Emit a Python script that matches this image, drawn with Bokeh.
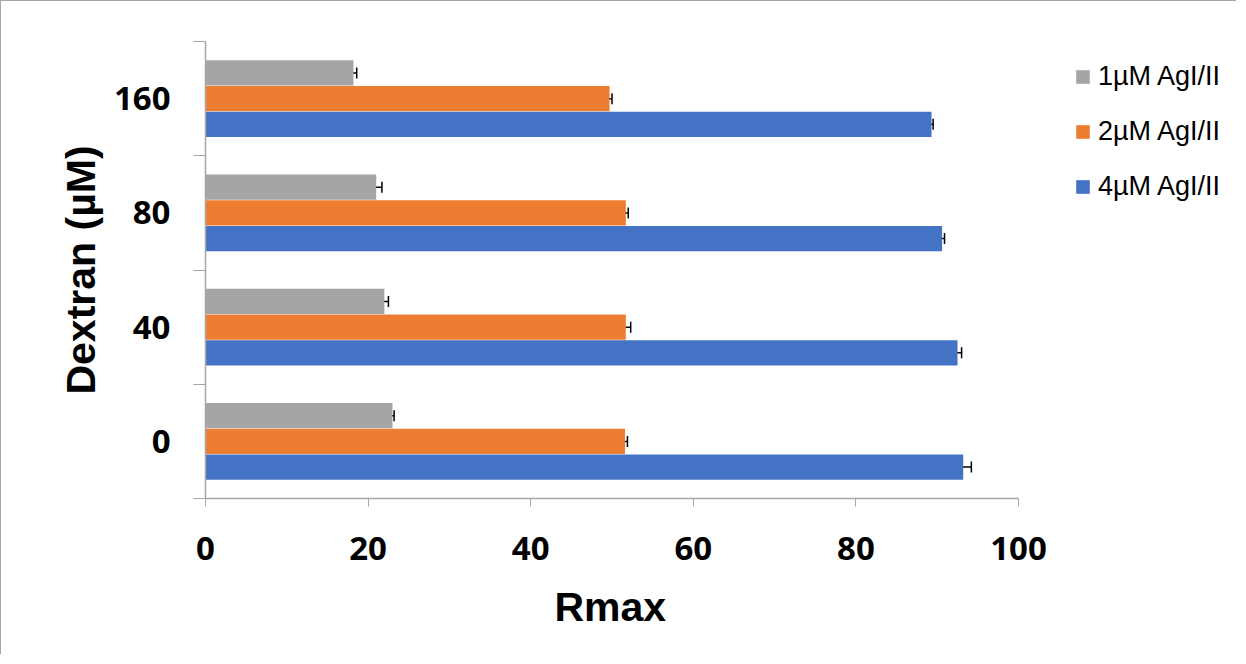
from bokeh.plotting import figure
from bokeh.models import ColumnDataSource, Range1d, FixedTicker, Whisker, Legend, LegendItem, TeeHead, Title
from bokeh.embed import file_html
from bokeh.resources import INLINE

# ---- data ----
dextran = ["0", "40", "80", "160"]
series = ["1µM AgI/II", "2µM AgI/II", "4µM AgI/II"]
colors = ["#A5A5A5", "#ED7D31", "#4472C4"]
rmax_1uM = [23.0, 22.0, 21.0, 18.2]
rmax_2uM = [51.6, 51.7, 51.7, 49.7]
rmax_4uM = [93.2, 92.5, 90.6, 89.3]
err_1uM = [0.2, 0.5, 0.7, 0.4]
err_2uM = [0.3, 0.6, 0.3, 0.3]
err_4uM = [1.0, 0.5, 0.3, 0.2]
x_ticks = [0, 20, 40, 60, 80, 100]

values = [rmax_1uM, rmax_2uM, rmax_4uM]
errors = [err_1uM, err_2uM, err_4uM]
offsets = [0.225, 0.0, -0.225]
bar_h = 0.222

W, H = 1236, 654
left_px, top_px, right_px, bottom_px = 204, 40, 10, 157
axis_px = 813  # pixel length of the 0..100 axis
frame_px = W - left_px - right_px
x_end = 100 * frame_px / axis_px  # frame extends past 100 to host the legend

p = figure(width=W, height=H, output_backend="svg", toolbar_location=None,
           x_range=Range1d(0, x_end), y_range=Range1d(0, len(dextran)),
           min_border_left=left_px, min_border_top=top_px,
           min_border_right=right_px, min_border_bottom=bottom_px,
           styles={"border-top": "1px solid #a6a6a6", "border-left": "1px solid #a6a6a6"})
p.outline_line_color = None
p.xgrid.grid_line_color = None
p.ygrid.grid_line_color = None
p.background_fill_color = "white"
p.border_fill_color = "white"

items = []
for k in range(3):
    centers = [i + 0.5 + offsets[k] for i in range(len(dextran))]
    src = ColumnDataSource(dict(y=centers, v=values[k],
                                lo=[a - b for a, b in zip(values[k], errors[k])],
                                hi=[a + b for a, b in zip(values[k], errors[k])]))
    w = Whisker(source=src, base="y", lower="lo", upper="hi", dimension="width",
                line_color="black", line_width=1.5, level="underlay",
                upper_head=TeeHead(size=11, line_color="black", line_width=1.5),
                lower_head=TeeHead(size=11, line_color="black", line_width=1.5))
    p.add_layout(w)
    r = p.hbar(y="y", right="v", left=0, height=bar_h, source=src,
               fill_color=colors[k], line_color=None)
    items.append(LegendItem(label=series[k], renderers=[r]))

# y axis: labels at centers, ticks at boundaries (minor)
p.yaxis.ticker = FixedTicker(ticks=[i + 0.5 for i in range(len(dextran))],
                             minor_ticks=list(range(len(dextran) + 1)))
p.yaxis.major_label_overrides = {i + 0.5: d for i, d in enumerate(dextran)}
p.yaxis.major_tick_out = 0
p.yaxis.major_tick_in = 0
p.yaxis.minor_tick_out = 12
p.yaxis.minor_tick_in = 0
p.yaxis.minor_tick_line_color = "#a6a6a6"
p.yaxis.axis_line_color = "#a6a6a6"
p.yaxis.major_label_standoff = 23
p.yaxis.axis_label = "Dextran (µM)"
p.yaxis.axis_label_standoff = 7

p.xaxis.ticker = FixedTicker(ticks=x_ticks, minor_ticks=[])
p.xaxis.bounds = (0, 100)
p.xaxis.major_tick_out = 8
p.xaxis.major_tick_in = 0
p.xaxis.major_tick_line_color = "#a6a6a6"
p.xaxis.axis_line_color = "#a6a6a6"
p.xaxis.major_label_standoff = 30

for ax in (p.xaxis, p.yaxis):
    ax.major_label_text_font = "Open Sans"
    ax.major_label_text_font_style = "bold"
    ax.major_label_text_font_size = "33px"
    ax.major_label_text_color = "black"
    ax.axis_label_text_font = "Liberation Sans"
    ax.axis_label_text_font_style = "bold"
    ax.axis_label_text_font_size = "41px"
    ax.axis_label_text_color = "black"
    ax.axis_line_width = 1.5

# x-axis title centred under the 0..100 axis (frame is wider to host the legend)
xtitle = Title(text="Rmax", align="left", offset=349, standoff=38,
               text_font="Liberation Sans", text_font_style="bold",
               text_font_size="41px", text_color="black")
p.add_layout(xtitle, "below")

legend = Legend(items=items, location=(869, 296), margin=0, padding=10,
                glyph_width=17, glyph_height=17, label_standoff=7,
                label_text_font="Liberation Sans", label_text_font_size="27px",
                label_text_color="black", label_height=30, spacing=24,
                border_line_color=None, background_fill_alpha=0)
p.add_layout(legend)

open("out.html", "w").write(file_html(p, INLINE))
